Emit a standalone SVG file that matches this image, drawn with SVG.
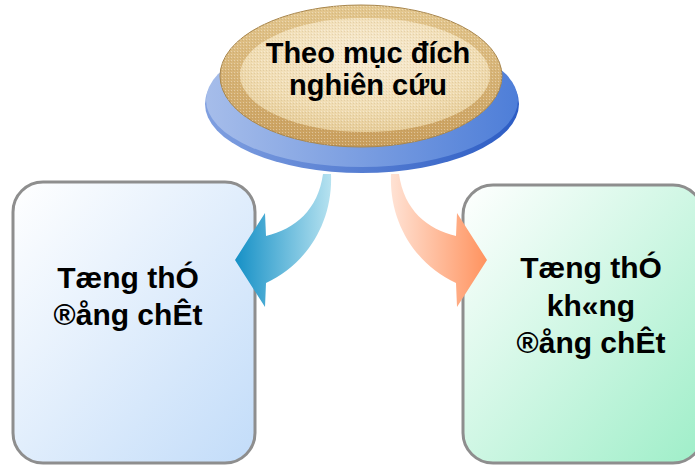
<svg xmlns="http://www.w3.org/2000/svg" width="695" height="466" viewBox="0 0 695 466">
  <defs>
    <linearGradient id="boxBlue" x1="0" y1="0" x2="1" y2="1">
      <stop offset="0" stop-color="#ffffff"/>
      <stop offset="1" stop-color="#c2dcf9"/>
    </linearGradient>
    <linearGradient id="boxGreen" x1="0" y1="0" x2="1" y2="1">
      <stop offset="0" stop-color="#ffffff"/>
      <stop offset="1" stop-color="#9eeec8"/>
    </linearGradient>
    <linearGradient id="arrowBlue" gradientUnits="userSpaceOnUse" x1="235" y1="0" x2="331" y2="0">
      <stop offset="0" stop-color="#1590c6"/>
      <stop offset="1" stop-color="#b6e2f0"/>
    </linearGradient>
    <linearGradient id="arrowOrange" gradientUnits="userSpaceOnUse" x1="487" y1="0" x2="391" y2="0">
      <stop offset="0" stop-color="#ff935f"/>
      <stop offset="1" stop-color="#ffe2d4"/>
    </linearGradient>
    <linearGradient id="discRim" x1="0" y1="0" x2="1" y2="0">
      <stop offset="0" stop-color="#7f9fe0"/>
      <stop offset="1" stop-color="#2c5cc4"/>
    </linearGradient>
    <linearGradient id="discTop" x1="0" y1="0" x2="1" y2="0">
      <stop offset="0" stop-color="#a6bdea"/>
      <stop offset="1" stop-color="#4e7ed8"/>
    </linearGradient>
    <linearGradient id="tanRing" x1="0" y1="0" x2="0" y2="1">
      <stop offset="0" stop-color="#e4c890"/>
      <stop offset="1" stop-color="#c99e5c"/>
    </linearGradient>
    <radialGradient id="tanFace" cx="0.5" cy="0.35" r="0.65">
      <stop offset="0" stop-color="#f8ecd4"/>
      <stop offset="0.7" stop-color="#f0dcb2"/>
      <stop offset="1" stop-color="#e6cc98"/>
    </radialGradient>
    <pattern id="grain" width="3" height="3" patternUnits="userSpaceOnUse">
      <rect x="0" y="0" width="1" height="1" fill="#ffffff" opacity="0.35"/>
      <rect x="2" y="1" width="1" height="1" fill="#8a6a30" opacity="0.15"/>
    </pattern>
  </defs>
  <style>
    .box { stroke: #8e8e8e; stroke-width: 3; }
    .label { font-family: "Liberation Sans", Arial, sans-serif; font-weight: bold; font-size: 30px; fill: #000000; text-anchor: middle; }
    .title { font-family: "Liberation Sans", Arial, sans-serif; font-weight: bold; font-size: 29px; fill: #000000; text-anchor: middle; }
  </style>

  <g id="left-box">
    <rect class="box" x="13" y="182" width="242" height="281" rx="30" ry="30" fill="url(#boxBlue)"/>
    <text class="label" x="128" y="288">Tæng thÓ</text>
    <text class="label" x="128" y="325">®ång chÊt</text>
  </g>

  <g id="right-box">
    <rect class="box" x="463" y="185" width="240" height="278" rx="30" ry="30" fill="url(#boxGreen)"/>
    <text class="label" x="591" y="278">Tæng thÓ</text>
    <text class="label" x="591" y="316">kh«ng</text>
    <text class="label" x="591" y="353">®ång chÊt</text>
  </g>

  <!-- connectors: curved block arrows from the hub, heads lying over the box edges -->
  <g id="connectors">
    <path d="M235,260 L265,213 L266,236 C295,229 318,210 323,174 L331,174 C333,222 307,264 266,283 L265,307 Z" fill="url(#arrowBlue)"/>
    <path d="M487,260 L457,213 L456,236 C427,229 404,210 399,174 L391,174 C389,222 415,264 456,283 L457,307 Z" fill="url(#arrowOrange)"/>
  </g>

  <!-- hub: tan oval resting on a blue disc -->
  <g id="hub">
    <ellipse cx="362" cy="104" rx="157" ry="69" fill="url(#discRim)"/>
    <ellipse cx="362" cy="100" rx="156" ry="67" fill="url(#discTop)"/>
    <ellipse cx="361" cy="76" rx="141" ry="71" fill="url(#tanRing)" stroke="#a9874e" stroke-width="1"/>
    <ellipse cx="365" cy="75" rx="125" ry="57" fill="url(#tanFace)"/>
    <ellipse cx="361" cy="76" rx="141" ry="71" fill="url(#grain)"/>
    <text class="title" x="368" y="63">Theo mục đích</text>
    <text class="title" x="368" y="95">nghiên cứu</text>
  </g>
</svg>
